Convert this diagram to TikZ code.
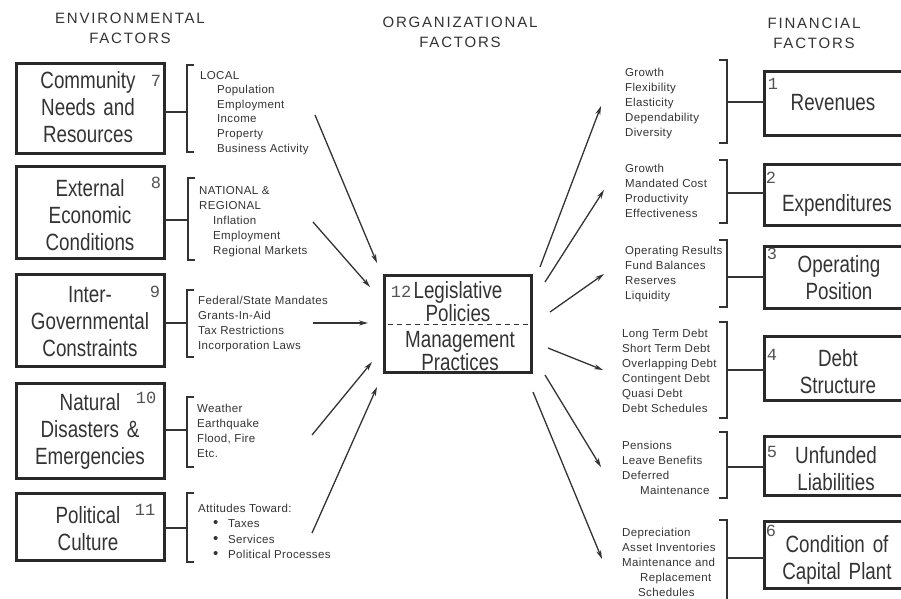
\documentclass[tikz,border=0pt]{standalone}
\usepackage{fontspec}
\setmainfont{Liberation Sans}
\newfontfamily\boxfont[FakeStretch=0.8,WordSpace=1.5]{Liberation Sans}
\newfontfamily\listfont[LetterSpace=3]{Liberation Sans}
\newfontfamily\headfont[LetterSpace=12]{Liberation Sans}
\newfontfamily\numfont{Liberation Mono}
\usetikzlibrary{arrows.meta}

\definecolor{ink}{gray}{0.2}
\definecolor{frame}{gray}{0.16}

\tikzset{
  factorbox/.style={draw=frame, line width=2.8pt, rectangle, inner sep=0pt, outer sep=0pt},
  boxtext/.style={text=ink, align=center, inner sep=0pt,
    font=\boxfont\fontsize{23.5}{27}\selectfont},
  num/.style={text=ink!85, inner sep=0pt, font=\numfont\fontsize{17}{17}\selectfont},
  lst/.style={text=ink, anchor=base west, inner sep=0pt,
    font=\listfont\fontsize{11.5}{15}\selectfont},
  head/.style={text=ink, align=center, inner sep=0pt,
    font=\headfont\fontsize{15}{20}\selectfont},
  brk/.style={draw=ink, line width=1.2pt},
  link/.style={draw=ink, line width=1.5pt},
  flow/.style={draw=ink, line width=1.3pt, -{Stealth[length=9pt,width=5pt]}},
  divider/.style={draw=ink, line width=1pt, dash pattern=on 5pt off 4pt},
}

% list of lines: name, x, first baseline, line step, {indent/text, ...}
\newcommand{\factorlist}[5]{%
  \foreach \dx/\t [count=\i from 0] in {#5}
    \node[lst] (#1-\i) at ({#2+\dx},{#3+#4*\i}) {\t};}
% bracket opening to the right: x, top, bottom
\newcommand{\openbracket}[3]{%
  \draw[brk] ({#1+7},#2) -- (#1,#2) -- (#1,#3) -- ({#1+7},#3);}
% bracket opening to the left: x, top, bottom
\newcommand{\closebracket}[3]{%
  \draw[brk] ({#1-8},#2) -- (#1,#2) -- (#1,#3) -- ({#1-8},#3);}

\begin{document}
\begin{tikzpicture}[x=1pt,y=-1pt]
\useasboundingbox (0,0) rectangle (901,598);
\clip (0,0) rectangle (901,598);

% column headings
\node[head] (hEnv) at (130,28) {ENVIRONMENTAL\\FACTORS};
\node[head] (hOrg) at (460,32) {ORGANIZATIONAL\\FACTORS};
\node[head] (hFin) at (814,33) {FINANCIAL\\FACTORS};

% ---------- environmental factors ----------
\node[factorbox, minimum width=148pt, minimum height=90pt] (env1) at (90.5,108.5) {};
\node[factorbox, minimum width=148pt, minimum height=92pt] (env2) at (90.5,212.5) {};
\node[factorbox, minimum width=148pt, minimum height=92pt] (env3) at (90.5,320.5) {};
\node[factorbox, minimum width=148pt, minimum height=95pt] (env4) at (90.5,431) {};
\node[factorbox, minimum width=148pt, minimum height=67pt] (env5) at (90.5,527) {};

\node[boxtext] (envt1) at (88,107) {Community\\Needs and\\Resources};
\node[boxtext] (envt2) at (90,215) {External\\Economic\\Conditions};
\node[boxtext] (envt3) at (90,322) {Inter-\\Governmental\\Constraints};
\node[boxtext] (envt4) at (90,431) {Natural\\Disasters \&\\Emergencies};
\node[boxtext] (envt5) at (88,528.5) {Political\\Culture};

\node[num] (n7) at (156,81) {7};
\node[num] (n8) at (156,183) {8};
\node[num] (n9) at (155,292) {9};
\node[num] (n10) at (146,398) {10};
\node[num] (n11) at (145,510) {11};

\openbracket{187}{65}{152}
\openbracket{188}{178}{260}
\openbracket{187}{290}{357}
\openbracket{187}{397}{467}
\openbracket{187}{493}{562}

\coordinate (bl1) at (187,112);
\coordinate (bl2) at (188,220);
\coordinate (bl3) at (187,323);
\coordinate (bl4) at (187,430);
\coordinate (bl5) at (187,528);
\foreach \k in {1,...,5}
  \draw[link] (env\k.east |- bl\k) -- (bl\k);

\factorlist{le1}{200}{79}{14.6}{0/LOCAL, 17/Population, 17/Employment, 17/Income, 17/Property, 17/Business Activity}
\factorlist{le2}{199}{194}{15}{0/NATIONAL \&, 0/REGIONAL, 14/Inflation, 14/Employment, 14/Regional Markets}
\factorlist{le3}{198}{304}{15}{0/{Federal/State Mandates}, 0/Grants-In-Aid, 0/Tax Restrictions, 0/Incorporation Laws}
\factorlist{le4}{197}{412}{15.3}{0/Weather, 0/Earthquake, 0/{Flood, Fire}, 0/Etc.}
\factorlist{le5}{198}{512}{15.5}{0/Attitudes Toward:,
  15/{\makebox[15pt][l]{\fontsize{15}{15}\selectfont •}Taxes},
  15/{\makebox[15pt][l]{\fontsize{15}{15}\selectfont •}Services},
  15/{\makebox[15pt][l]{\fontsize{15}{15}\selectfont •}Political Processes}}

% ---------- organizational factors ----------
\node[factorbox, minimum width=147pt, minimum height=97pt] (org) at (458,324) {};
\draw[divider] ([xshift=3pt]org.west) -- ([xshift=-3pt]org.east);
\node[boxtext, font=\boxfont\fontsize{23.5}{21}\selectfont] (orgt1) at (458,302) {Legislative\\Policies};
\node[boxtext, font=\boxfont\fontsize{23.5}{21}\selectfont] (orgt2) at (460,351) {Management\\Practices};
\node[num] (n12) at (401,292) {12};

% ---------- financial factors ----------
\node[factorbox, minimum width=149pt, minimum height=64pt] (fin1) at (839,103.5) {};
\node[factorbox, minimum width=149pt, minimum height=61pt] (fin2) at (839,195) {};
\node[factorbox, minimum width=149pt, minimum height=62pt] (fin3) at (839,277.5) {};
\node[factorbox, minimum width=149pt, minimum height=64pt] (fin4) at (839,368.5) {};
\node[factorbox, minimum width=149pt, minimum height=59pt] (fin5) at (839,466) {};
\node[factorbox, minimum width=149pt, minimum height=67pt] (fin6) at (839,555) {};

\node[boxtext] (fint1) at (833,103) {Revenues};
\node[boxtext] (fint2) at (837,205) {Expenditures};
\node[boxtext] (fint3) at (839,278) {Operating\\Position};
\node[boxtext] (fint4) at (838,371.5) {Debt\\Structure};
\node[boxtext] (fint5) at (836,468.5) {Unfunded\\Liabilities};
\node[boxtext] (fint6) at (837,560) {Condition of\\Capital Plant};

\node[num] (n1) at (773,84) {1};
\node[num] (n2) at (771,178) {2};
\node[num] (n3) at (772,254) {3};
\node[num] (n4) at (772,355) {4};
\node[num] (n5) at (772,452) {5};
\node[num] (n6) at (771,531) {6};

\closebracket{727}{60}{143}
\closebracket{727}{160}{223}
\closebracket{727}{240}{307}
\closebracket{727}{322}{418}
\closebracket{727}{432}{498}
\closebracket{727}{520}{606}

\coordinate (br1) at (727,102);
\coordinate (br2) at (727,193);
\coordinate (br3) at (727,277);
\coordinate (br4) at (727,370);
\coordinate (br5) at (727,467);
\coordinate (br6) at (727,558);
\foreach \k in {1,...,6}
  \draw[link] (br\k) -- (fin\k.west |- br\k);

\factorlist{lf1}{625}{76}{15}{0/Growth, 0/Flexibility, 0/Elasticity, 0/Dependability, 0/Diversity}
\factorlist{lf2}{625}{172}{15}{0/Growth, 0/Mandated Cost, 0/Productivity, 0/Effectiveness}
\factorlist{lf3}{625}{254}{15.3}{0/Operating Results, 0/Fund Balances, 0/Reserves, 0/Liquidity}
\factorlist{lf4}{622}{337}{15}{0/Long Term Debt, 0/Short Term Debt, 0/Overlapping Debt, 0/Contingent Debt, 0/Quasi Debt, 0/Debt Schedules}
\factorlist{lf5}{622}{449}{15.3}{0/Pensions, 0/Leave Benefits, 0/Deferred, 18/Maintenance}
\factorlist{lf6}{622}{536}{15}{0/Depreciation, 0/Asset Inventories, 0/Maintenance and, 18/Replacement, 16/Schedules}

% ---------- arrows into and out of the organizational box ----------
\coordinate (ia1) at (315,115);  \coordinate (ib1) at (377,263);
\coordinate (ia2) at (313,222);  \coordinate (ib2) at (370,287);
\coordinate (ia3) at (313,323);  \coordinate (ib3) at (368,323);
\coordinate (ia4) at (312,435);  \coordinate (ib4) at (372,362);
\coordinate (ia5) at (312,533);  \coordinate (ib5) at (377,387);
\foreach \k in {1,...,5}
  \draw[flow] (ia\k) -- (ib\k);

\coordinate (oa1) at (540,267);  \coordinate (ob1) at (601,106);
\coordinate (oa2) at (545,282);  \coordinate (ob2) at (604,190);
\coordinate (oa3) at (550,312);  \coordinate (ob3) at (604,274);
\coordinate (oa4) at (548,348);  \coordinate (ob4) at (603,370);
\coordinate (oa5) at (545,375);  \coordinate (ob5) at (601,467);
\coordinate (oa6) at (533,392);  \coordinate (ob6) at (602,559);
\foreach \k in {1,...,6}
  \draw[flow] (oa\k) -- (ob\k);
\end{tikzpicture}
\end{document}
